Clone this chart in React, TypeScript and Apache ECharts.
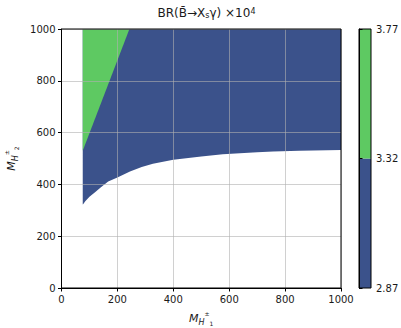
import React, { useEffect, useRef } from "react";
import * as echarts from "echarts";

// Lower edge of the allowed (coloured) region
const lowerX = [76, 78, 85, 100, 120, 140, 167, 200, 245, 287, 327, 400, 500, 577, 700, 757, 850, 1000];
const lowerY = [322, 324, 335, 352, 370, 388, 411, 427, 450, 467, 480, 495, 508, 516, 524, 527, 530, 533];
// Edge between the two colour levels (green lies to the left of it)
const greenEdgeX = [76, 243];
const greenEdgeY = [530, 1000];
const regionTop = 1000;
const regionRight = 1000;

// Colour levels of the colour bar
const levels = [2.87, 3.32, 3.77];
const levelColors = ["#3b528b", "#5ec962"];

const FONT = "DejaVu Sans";

export default function App() {
  const ref = useRef<HTMLDivElement>(null);
  useEffect(() => {
    if (!ref.current) return;
    const chart = echarts.init(ref.current, null, { renderer: "svg" });
    const gridColor = "rgba(176,176,176,0.6)";
    const axisCommon = {
      axisLine: { show: true, onZero: false, lineStyle: { color: "#000", width: 1 } },
      axisTick: { show: true, inside: false, length: 3.5, lineStyle: { color: "#000" } },
      axisLabel: { color: "#1a1a1a", fontSize: 10, fontFamily: FONT, margin: 6, formatter: (v: number) => String(v) },
      splitLine: { show: true, lineStyle: { color: gridColor, width: 1 } },
    };
    const nameRich = {
      m: { fontSize: 11, fontStyle: "italic", fontFamily: FONT, color: "#1a1a1a", lineHeight: 16, verticalAlign: "middle" },
      s: { fontSize: 8, fontStyle: "italic", fontFamily: FONT, color: "#1a1a1a", lineHeight: 9, verticalAlign: "bottom" },
      sp: { fontSize: 6, fontFamily: FONT, color: "#1a1a1a", lineHeight: 8, verticalAlign: "top" },
      ss: { fontSize: 6, fontFamily: FONT, color: "#1a1a1a", lineHeight: 6, verticalAlign: "bottom" },
    };
    chart.setOption({
      animation: false,
      title: {
        text: "BR(B\u0304\u2192X{s|s}\u03b3) \u00d710{p|4}",
        left: 201.5,
        textAlign: "center",
        top: 2,
        textStyle: {
          fontSize: 12,
          fontWeight: "normal",
          fontFamily: FONT,
          color: "#1a1a1a",
          rich: {
            s: { fontSize: 8, fontFamily: FONT, color: "#1a1a1a", verticalAlign: "bottom", lineHeight: 8 },
            p: { fontSize: 8, fontFamily: FONT, color: "#1a1a1a", verticalAlign: "top", lineHeight: 8 },
          },
        },
      },
      grid: [
        { left: 61.5, top: 29, width: 279.5, height: 259, show: true, borderColor: "#000", borderWidth: 1, z: 10, containLabel: false, outerBoundsMode: "none" },
        { left: 359, top: 29, width: 12, height: 259, show: true, borderColor: "#000", borderWidth: 1, z: 10, containLabel: false, outerBoundsMode: "none" },
      ],
      xAxis: [
        {
          ...axisCommon,
          gridIndex: 0,
          type: "value",
          min: 0,
          max: 1000,
          interval: 200,
          z: 5,
          name: "{m|M}{s|H}{sp|\u00b1}{ss|1}",
          nameLocation: "middle",
          nameGap: 22,
          nameTextStyle: { rich: nameRich },
        },
        { gridIndex: 1, type: "value", min: 0, max: 1, show: false },
      ],
      yAxis: [
        {
          ...axisCommon,
          gridIndex: 0,
          type: "value",
          min: 0,
          max: 1000,
          interval: 200,
          z: 5,
          name: "{m|M}{s|H}{sp|\u00b1}{ss|2}",
          nameLocation: "middle",
          nameGap: 40,
          nameRotate: 90,
          nameTextStyle: { rich: nameRich },
        },
        {
          gridIndex: 1,
          type: "value",
          position: "right",
          min: levels[0],
          max: levels[levels.length - 1],
          axisLine: { show: true, lineStyle: { color: "#000" } },
          axisTick: { show: true, length: 3.5, customValues: levels, lineStyle: { color: "#000" } },
          axisLabel: {
            color: "#1a1a1a",
            fontSize: 10,
            fontFamily: FONT,
            margin: 5,
            customValues: levels,
            formatter: (v: number) => v.toFixed(2),
          },
          splitLine: { show: false },
          z: 5,
        },
      ],
      series: [
        {
          type: "custom",
          xAxisIndex: 0,
          yAxisIndex: 0,
          clip: true,
          data: [[lowerX[0], lowerY[0]]],
          renderItem: (params: any, api: any) => {
            const pts = lowerX.map((x, i) => api.coord([x, lowerY[i]]));
            pts.push(api.coord([regionRight, regionTop]));
            pts.push(api.coord([lowerX[0], regionTop]));
            return { type: "polygon", shape: { points: pts }, style: { fill: levelColors[0] } };
          },
        },
        {
          type: "custom",
          xAxisIndex: 0,
          yAxisIndex: 0,
          clip: true,
          data: [[greenEdgeX[0], greenEdgeY[0]]],
          renderItem: (params: any, api: any) => {
            const pts = greenEdgeX.map((x, i) => api.coord([x, greenEdgeY[i]]));
            pts.push(api.coord([greenEdgeX[0], regionTop]));
            return { type: "polygon", shape: { points: pts }, style: { fill: levelColors[1] } };
          },
        },
        {
          type: "custom",
          xAxisIndex: 1,
          yAxisIndex: 1,
          encode: { x: 0, y: 1 },
          data: levelColors.map((c, i) => [0, levels[i], levels[i + 1]]),
          renderItem: (params: any, api: any) => {
            const lo = api.value(1);
            const hi = api.value(2);
            const p1 = api.coord([0, hi]);
            const p2 = api.coord([1, lo]);
            return {
              type: "rect",
              shape: { x: p1[0], y: p1[1], width: p2[0] - p1[0], height: p2[1] - p1[1] },
              style: { fill: levelColors[params.dataIndex] },
            };
          },
        },
      ],
    });
    return () => chart.dispose();
  }, []);
  return (
    <div
      ref={ref}
      style={{ position: "fixed", left: 0, top: 0, width: 401, height: 328, background: "#fff" }}
    />
  );
}
